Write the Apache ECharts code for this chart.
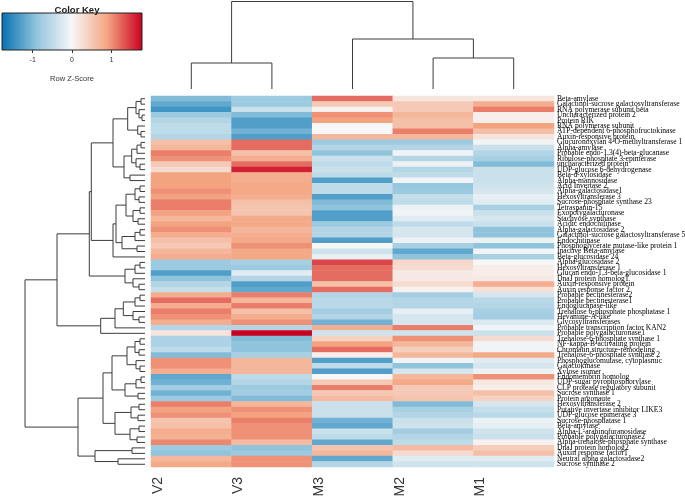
<!DOCTYPE html>
<html><head><meta charset="utf-8">
<script src="https://cdn.jsdelivr.net/npm/echarts@6.0.0/dist/echarts.min.js"></script>
<style>html,body{margin:0;padding:0;background:#fff}#c{width:685px;height:498px}</style>
</head><body><div id="c"></div>
<script>
const colLabels = ['V2','V3','M3','M2','M1'];
const rowLabels = ['Beta-amylase','Galactinol-sucrose galactosyltransferase','RNA polymerase subunit beta','Uncharacterized protein 2','Protein RIK','RNA polymerase subunit','ATP-dependent 6-phosphofructokinase','Auxin-responsive protein','Glucuronoxylan 4-O-methyltransferase 1','Alpha-amylase','Probable endo-1,3(4)-beta-glucanase','Ribulose-phosphate 3-epimerase','uncharacterized protein','UDP-glucose 6-dehydrogenase','Beta-d-xylosidase','Alpha-mannosidase','Acid Invertase 2','Alpha-galactosidase1','Hexosyltransferase 3','Sucrose-phosphate synthase 23','Tetraspanin-15','Exopolygalacturonase','Stachyose synthase','Acidic endochitinase','Alpha-galactosidase 2','Galactinol-sucrose galactosyltransferase 5','Endochitinase','Phosphoglycerate mutase-like protein 1','Inactive Beta-amylase','Beta-glucosidase 24','Alpha-glucosidase 2','Hexosyltransferase 1','Glucan endo-1,3-beta-glucosidase 1','DnaJ protein homolog1','Auxin-responsive protein','Auxin response factor 2','Probable pectinesterase2','Probable pectinesterase1','Endoglucanase-like','Trehalose 6-phosphate phosphatase 1','Hevamine-A-like','Glycosyltransferases','Probable transcription factor KAN2','Probable polygalacturonase1','Trehalose-6-phosphate synthase 1','NF-kappa-B-activating protein','Chromatin structure-remodeling','Trehalose-6-phosphate synthase 2','Phosphoglucomutase, cytoplasmic','Galactokinase','Xylose isomer','Endomembrin homolog','UDP-sugar pyrophosphorylase','CLP protease regulatory subunit','Sucrose synthase 1','Protein argonaute','Hexosyltransferase 2','Putative invertase inhibitor LIKE3','UDP-glucose epimerase 3','Sucrose-phosphatase 1','Beta-amylase','Alpha-L-arabinofuranosidase','Probable polygalacturonase2','Alpha-trehalose-phosphate synthase','DnaJ protein homolog2','Auxin response factor1','Neutral alpha galactosidase2','Sucrose synthase 2'];

const V2 = [-1.0,-1.2,-1.4,-0.8,-0.6,-0.5,-0.5,-0.6,0.6,0.7,1.1,1.0,0.5,0.3,0.9,0.9,0.9,1.0,0.9,1.1,1.1,0.9,0.7,0.9,1.0,0.8,0.6,0.5,0.7,0.8,-0.8,-0.8,-1.3,-0.9,-0.6,-0.45,0.8,1.2,0.8,1.1,1.0,0.8,-0.6,0.2,-0.65,-0.65,-0.5,-1.0,1.0,1.0,0.8,-1.2,-1.1,-0.75,-1.1,-0.8,1.1,0.9,1.0,0.55,0.6,0.8,0.75,1.05,-0.8,-0.9,0.7,0.85];
const V3 = [-0.8,-0.8,-0.4,-1.0,-1.3,-1.3,-1.1,-1.3,1.2,1.2,0.6,0.8,1.2,1.6,0.8,0.8,0.85,0.85,0.8,0.6,0.55,0.55,0.85,0.85,0.7,0.8,0.85,1.0,0.85,0.85,-0.7,-0.8,-0.2,-0.6,-1.3,-1.2,1.1,0.7,1.1,0.6,0.8,1.0,-0.6,1.8,-1.0,-0.9,-0.9,-0.7,0.7,0.7,0.7,-0.5,-0.6,-0.8,-0.75,-1.0,0.7,1.0,0.9,1.1,1.0,1.0,1.0,0.65,-0.9,-0.8,1.0,1.0];
const M3 = [1.2,0.5,0.05,1.0,0.9,0.0,0.0,0.7,-0.8,-0.6,-0.9,-0.4,-0.5,-0.4,-0.5,-1.3,-0.5,-0.5,-1.3,-1.0,-0.9,-1.3,-1.3,-0.8,-0.6,-0.6,-1.3,0.0,-0.35,-0.15,1.4,1.2,1.2,1.2,0.6,1.2,-0.6,-0.55,-0.55,-0.75,-0.6,-1.1,0.8,-0.35,0.4,0.9,1.2,0.1,-1.3,-0.5,-1.3,0.0,0.5,1.1,0.5,0.65,-0.4,-0.4,-0.4,-1.1,-1.2,-0.4,-0.5,-1.2,0.55,0.7,-1.2,-0.6];
const M2 = [0.2,0.5,0.5,0.7,0.6,0.6,1.1,0.7,-0.8,-0.6,-0.05,-0.6,-0.1,-0.6,-0.5,-0.05,-0.85,-0.8,-0.45,-0.5,-0.1,-0.05,-0.2,-0.5,-0.3,-0.3,-0.1,-0.7,-1.2,-0.9,0.35,0.3,0.15,0.15,0.3,0.05,-0.75,-0.6,-0.6,-0.15,-0.3,-0.3,1.1,-0.35,1.0,0.7,0.45,0.7,-0.05,-0.9,-0.3,0.7,0.85,0.5,0.5,0.55,-1.0,-0.7,-0.6,-0.4,-0.35,-0.75,-0.6,-0.5,0.65,0.3,-0.2,-0.35];
const M1 = [0.2,0.8,1.1,0.1,0.1,0.9,0.6,0.2,-0.05,-0.4,-0.6,-0.7,-1.0,-0.4,-0.4,-0.4,-0.35,-0.3,-0.15,-0.2,-0.7,-0.4,-0.3,-0.4,-0.9,-0.9,-0.1,-0.9,-0.05,-0.7,0.0,0.1,0.1,0.15,0.8,0.25,-0.3,-0.55,-0.6,-0.7,-0.75,-0.25,-0.05,-0.4,0.3,-0.05,-0.05,0.85,-0.2,-0.3,-0.1,1.0,0.15,0.1,0.6,0.4,-0.3,-0.45,-0.55,-0.1,-0.15,-0.35,-0.4,0.05,0.45,0.6,-0.2,-0.35];

const keyTicks = [-1, 0, 1];
const zRange = [-1.78, 1.78];
const palette = ['#0571B0','#92C5DE','#F7F7F7','#F4A582','#CA0020'];

// dendrograms: [height, left, right]; leaves = row number (1-based) / column index (0-based)
const colTree = [87.5, [26, 0, 1], [50, 2, [31, 3, 4]]];
const rowTree =
[120,
  [88,
    [55.7,
      [53.7,
        [32,
          [17.3, [9, [4, 1, 2], [6, 3, [3, 4, 5]]], [7.3, 6, [4, 7, 8]]],
          [21, [13.3, [8, [4, 9, 10], 11], [9, 12, [5, 13, 14]]], [15, 15, 16]]],
        [32, [29, [19, [10, [5, 17, 18], [6, 19, 20]], [12, [5, 21, 22], [7, 23, 24]]], [23, [10, [5, 25, 26], 27], [8, 28, 29]]], 30]],
      [20, [10, [5, 31, 32], 33], [12, 34, [6, 35, 36]]]],
    [44.3, [30, [21.7, [10, [5, 37, 38], 39], [12, 40, [6, 41, 42]]], 43], 44]],
  [67,
    [42,
      [33, [18, [10, [5, 45, 46], [6, 47, 48]], [9, 49, [5, 50, 51]]], [20, [9, [4, 52, 53], 54], [7, 55, 56]]],
      [30, [14, [6, 57, 58], [7, 59, 60]], [15, [6, 61, 62], [8, 63, 64]]]],
    [50, [13, 65, 66], [27, 67, 68]]]];

function layout(node, leafPos, segs) {
  if (typeof node === 'number') return { pos: leafPos(node), h: 0 };
  const a = layout(node[1], leafPos, segs), b = layout(node[2], leafPos, segs);
  segs.push([a.h, a.pos, node[0], b.pos, b.h]);
  return { pos: (a.pos + b.pos) / 2, h: node[0] };
}
const rowSegs = []; layout(rowTree, k => k - 0.5, rowSegs);
const colSegs = []; layout(colTree, i => i + 0.5, colSegs);

const cols = [V2, V3, M3, M2, M1];
const heat = [];
cols.forEach((arr, ci) => arr.forEach((v, ri) => heat.push([ci, ri, v])));

const lineStyle = { stroke: '#3c3c3c', lineWidth: 1, fill: null };
const chart = echarts.init(document.getElementById('c'), null, { renderer: 'canvas' });
chart.setOption({
  animation: false,
  backgroundColor: '#fff',
  title: { text: 'Color Key', left: 72, top: 0, textAlign: 'center',
    textStyle: { fontSize: 9.5, fontWeight: 'bold', color: '#222', fontFamily: 'Liberation Sans' } },
  grid: [
    { left: 151, top: 96, width: 403, height: 371, outerBoundsMode: 'none' },
    { left: 25, top: 96, width: 120, height: 371, outerBoundsMode: 'none' },
    { left: 151, top: 1.5, width: 403, height: 87.5, outerBoundsMode: 'none' },
    { left: 2, top: 13, width: 140, height: 37, outerBoundsMode: 'none', show: true, borderColor: '#222', borderWidth: 1,
      backgroundColor: { type: 'linear', x: 0, y: 0, x2: 1, y2: 0,
        colorStops: palette.map((c, i) => ({ offset: i / (palette.length - 1), color: c })) } }
  ],
  xAxis: [
    { gridIndex: 0, type: 'category', data: colLabels, position: 'bottom',
      axisLine: { show: false }, axisTick: { show: false }, axisLabel: { show: false } },
    { gridIndex: 1, type: 'value', min: 0, max: 120, inverse: true, show: false },
    { gridIndex: 2, type: 'value', min: 0, max: 5, show: false },
    { gridIndex: 3, type: 'value', min: zRange[0], max: zRange[1], position: 'bottom',
      axisLine: { show: false }, splitLine: { show: false },
      axisTick: { show: true, customValues: keyTicks, length: 3, lineStyle: { color: '#333' } },
      axisLabel: { customValues: keyTicks, fontSize: 7, color: '#333', margin: 7, fontFamily: 'Liberation Sans' },
      name: 'Row Z-Score', nameLocation: 'middle', nameGap: 25,
      nameTextStyle: { fontSize: 7.5, color: '#333', fontFamily: 'Liberation Sans' } },
    { gridIndex: 0, type: 'category', data: colLabels.concat(['']), boundaryGap: false, position: 'bottom',
      axisLine: { show: false }, axisTick: { show: false }, splitLine: { show: false },
      axisLabel: { interval: 0, rotate: 90, verticalAlign: 'top', fontSize: 14, color: '#333', margin: 10, fontFamily: 'Liberation Sans' } }
  ],
  yAxis: [
    { gridIndex: 0, type: 'category', data: rowLabels.map((n, i) => String(i)), inverse: true, position: 'right',
      axisLine: { show: false }, axisTick: { show: false },
      axisLabel: { interval: 0, fontSize: 7.6, color: '#000', margin: 3, fontFamily: 'Liberation Serif',
        formatter: v => rowLabels[+v] } },
    { gridIndex: 1, type: 'value', min: 0, max: rowLabels.length, inverse: true, show: false },
    { gridIndex: 2, type: 'value', min: 0, max: 87.5, show: false },
    { gridIndex: 3, type: 'value', min: 0, max: 1, show: false }
  ],
  visualMap: { type: 'continuous', show: false, min: zRange[0], max: zRange[1], seriesIndex: 0, inRange: { color: palette } },
  series: [
    { type: 'heatmap', xAxisIndex: 0, yAxisIndex: 0, data: heat, itemStyle: { borderWidth: 0 }, emphasis: { disabled: true } },
    { type: 'custom', xAxisIndex: 1, yAxisIndex: 1, data: rowSegs, silent: true,
      renderItem: (p, api) => ({ type: 'polyline', shape: { points: [
        api.coord([api.value(0), api.value(1)]), api.coord([api.value(2), api.value(1)]),
        api.coord([api.value(2), api.value(3)]), api.coord([api.value(4), api.value(3)]) ] }, style: lineStyle }) },
    { type: 'custom', xAxisIndex: 2, yAxisIndex: 2, data: colSegs, silent: true,
      renderItem: (p, api) => ({ type: 'polyline', shape: { points: [
        api.coord([api.value(1), api.value(0)]), api.coord([api.value(1), api.value(2)]),
        api.coord([api.value(3), api.value(2)]), api.coord([api.value(3), api.value(4)]) ] }, style: lineStyle }) }
  ]
});
</script></body></html>
